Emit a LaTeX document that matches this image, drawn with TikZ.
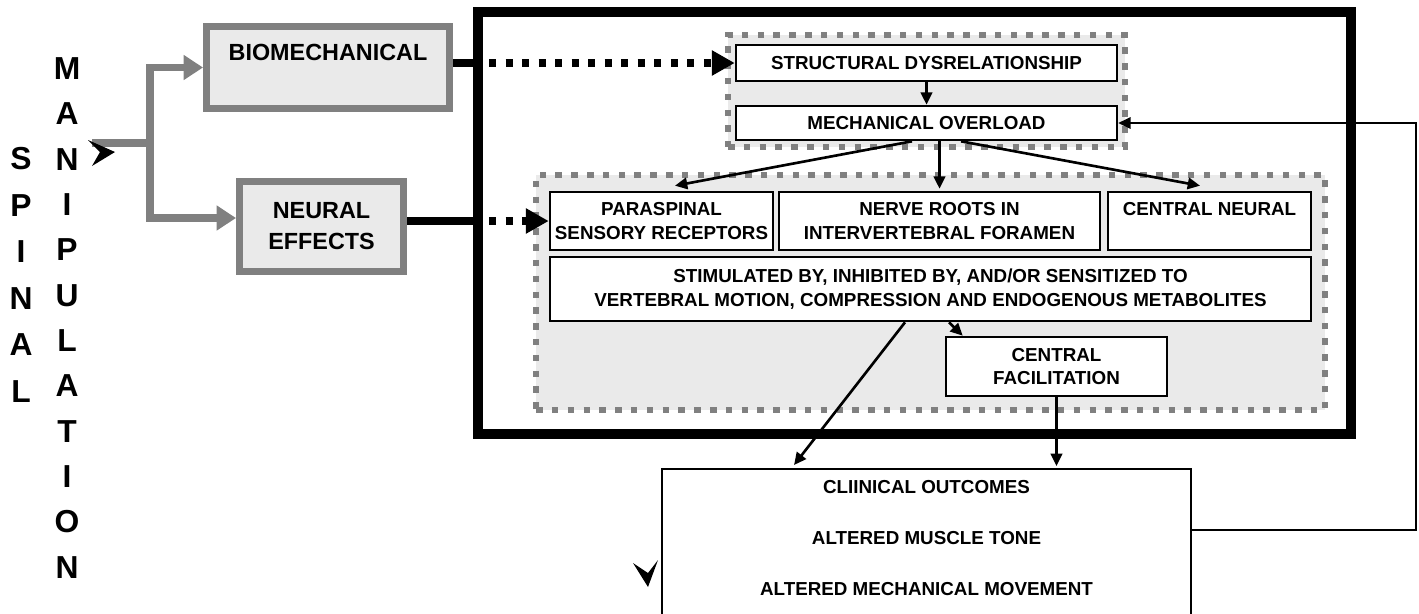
\documentclass[tikz,border=0pt]{standalone}
\usepackage{fontspec}
\setmainfont{Liberation Sans}
\usetikzlibrary{arrows.meta}

\definecolor{linegray}{RGB}{128,128,128}
\definecolor{panelfill}{RGB}{234,234,234}

\begin{document}
\begin{tikzpicture}[x=0.02cm, y=-0.02cm, >={Triangle[length=7pt,width=6.5pt]},
  bigtext/.style={font=\fontsize{13.3}{17.6}\selectfont\bfseries, align=center, inner sep=0pt},
  smalltext/.style={font=\fontsize{10.7}{13.6}\selectfont\bfseries, align=center, inner sep=0pt},
  column/.style={font=\bfseries, align=center, inner sep=0pt},
  sourcebox/.style={bigtext, draw=linegray, line width=4pt, fill=panelfill},
  panel/.style={draw=linegray, fill=panelfill, line width=3.7pt, dash pattern=on 3.7pt off 5.3pt, inner sep=0pt},
  effectbox/.style={smalltext, draw, line width=1.5pt, fill=white},
  grayarrow/.style={draw=linegray, line width=4pt, -{Triangle[length=11pt,width=13.6pt]}},
  bar/.style={line width=4pt},
  dotarrow/.style={line width=4pt, dash pattern=on 4pt off 5.4pt, -{Triangle[length=13pt,width=13.6pt]}},
  thinarrow/.style={line width=1.5pt, ->}
]
\clip (0,0) rectangle (1419,613);

% spinal manipulation
\node[column, font=\fontsize{18.1}{26.5}\selectfont\bfseries] (spinal) at (21,275) {S\\P\\I\\N\\A\\L};
\node[column, font=\fontsize{18.1}{25.8}\selectfont\bfseries] (manip) at (67,318) {M\\A\\N\\I\\P\\U\\L\\A\\T\\I\\O\\N};

% the two routes
\node[sourcebox, minimum width=4.86cm, minimum height=1.64cm] (bio) at (328,67.5) {BIOMECHANICAL\\\mbox{}};
\node[sourcebox, minimum width=3.28cm, minimum height=1.8cm] (neural) at (321.5,226.5) {NEURAL\\EFFECTS};

% big frame and its contents
\node[draw, line width=5.7pt, outer sep=0pt, minimum width=17.46cm, minimum height=8.44cm] (frame) at (914.5,223) {};
\node[panel, minimum width=7.94cm, minimum height=2.24cm] (mechpanel) at (926.5,91) {};
\node[panel, minimum width=15.78cm, minimum height=4.7cm] (neuralpanel) at (930.5,292.5) {};

\node[effectbox, minimum width=7.62cm, minimum height=0.72cm] (struct) at (926.5,63) {STRUCTURAL DYSRELATIONSHIP};
\node[effectbox, minimum width=7.62cm, minimum height=0.68cm] (mech) at (926.5,123) {MECHANICAL OVERLOAD};
\node[effectbox, minimum width=4.46cm, minimum height=1.16cm] (para) at (661.5,221) {PARASPINAL\\SENSORY RECEPTORS};
\node[effectbox, minimum width=6.42cm, minimum height=1.16cm] (nerve) at (939.5,221) {NERVE ROOTS IN\\INTERVERTEBRAL FORAMEN};
\node[effectbox, minimum width=4.06cm, minimum height=1.16cm] (cneural) at (1209.5,221) {CENTRAL NEURAL\\\mbox{}};
\node[effectbox, minimum width=15.22cm, minimum height=1.28cm] (stim) at (930.5,289) {STIMULATED BY, INHIBITED BY, AND/OR SENSITIZED TO\\VERTEBRAL MOTION, COMPRESSION AND ENDOGENOUS METABOLITES};
\node[effectbox, minimum width=4.42cm, minimum height=1.18cm] (facil) at (1056.5,366.5) {CENTRAL\\FACILITATION};

% outcomes
\node[smalltext, draw, line width=1pt, anchor=north, minimum width=10.58cm, inner ysep=0.23cm, text depth=1.5cm,
  font=\fontsize{10.7}{28.9}\selectfont\bfseries] (outcome) at (926.5,468)
  {CLIINICAL OUTCOMES\\ALTERED MUSCLE TONE\\ALTERED MECHANICAL MOVEMENT};

% gray branches
\coordinate (start) at (92,143);
\coordinate (split) at (150,143);
\draw[draw=linegray, line width=4pt] (start) -- ([xshift=2pt]split);
\draw[grayarrow] (split) |- (bio.west);
\draw[grayarrow] (split) |- ([yshift=0.17cm]neural.west);

% into the frame
\coordinate (biojoin) at (frame.west |- struct.west);
\coordinate (neuraljoin) at (frame.west |- para.west);
\draw[bar] (bio.east |- biojoin) -- (biojoin);
\draw[bar] (neural.east |- neuraljoin) -- (neuraljoin);
\draw[dotarrow] ([xshift=0.22cm]biojoin) -- (struct.west);
\draw[dotarrow] ([xshift=0.22cm]neuraljoin) -- (para.west);

% inside
\draw[thinarrow] (struct.south) -- (mech.north);
\draw[thinarrow] ([xshift=-0.29cm]mech.south) -- ([xshift=0.27cm,yshift=0.1cm]para.north);
\draw[thinarrow] (nerve.north |- mech.south) -- ([yshift=0.04cm]nerve.north);
\draw[thinarrow] ([xshift=0.69cm]mech.south) -- ([xshift=-0.19cm,yshift=0.1cm]cneural.north);
\draw[thinarrow] ([xshift=0.37cm]stim.south) -- ([xshift=0.36cm]facil.north west);
\draw[thinarrow] ([xshift=-0.51cm]stim.south) -- ([xshift=-2.65cm,yshift=0.06cm]outcome.north);
\draw[thinarrow] (facil.south) -- ([yshift=0.04cm]facil.south |- outcome.north);

% feedback loop
\coordinate (loopcorner) at (1416,530);
\draw[line width=1pt, -{Triangle[length=7pt,width=6.5pt]}] (outcome.east |- loopcorner) -- (loopcorner) |- (mech.east);

% loose arrowheads
\fill (88,140) -- (115,152) -- (92,166) -- (100,152) -- cycle;
\fill (633,563) -- (648,587) -- (658,560) -- (648,573) -- cycle;
\end{tikzpicture}
\end{document}
